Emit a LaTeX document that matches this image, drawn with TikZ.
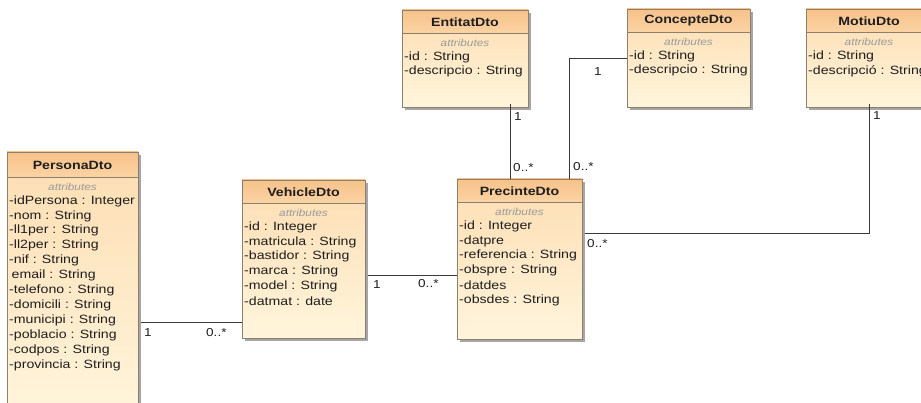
\documentclass[tikz,border=0pt]{standalone}
\usepackage{fontspec}
\setmainfont{Liberation Sans}[FakeStretch=1.18]
\usetikzlibrary{shadows}

\definecolor{hdrtop}{HTML}{F7C28A}
\definecolor{hdrbot}{HTML}{FBD3A4}
\definecolor{bodytop}{HTML}{FDDDB2}
\definecolor{bodybot}{HTML}{FFF5DC}
\definecolor{edgecol}{HTML}{8E7E6E}
\definecolor{shadowcol}{HTML}{A6A6A6}
\definecolor{ink}{HTML}{1E1E1E}
\definecolor{stereo}{HTML}{9A9A9A}
\definecolor{wirecol}{HTML}{3A3A3A}

\tikzset{
  classbox/.style={draw=edgecol, line width=0.7pt, top color=bodytop, bottom color=bodybot,
    inner sep=0pt, outer sep=0pt, anchor=north west,
    drop shadow={shadow xshift=3pt, shadow yshift=-3pt, fill=shadowcol, opacity=1}},
  classtitle/.style={font=\fontsize{12}{14}\selectfont\bfseries, text=ink, inner sep=0pt},
  stereotype/.style={font=\fontsize{10}{12}\selectfont\itshape, text=stereo, inner sep=0pt},
  attr/.style={font=\fontsize{12}{14}\selectfont, text=ink, inner sep=0pt, anchor=west},
  mult/.style={font=\fontsize{11.5}{14}\selectfont, text=ink, inner sep=0pt, anchor=west},
  wire/.style={draw=wirecol, line width=0.8pt},
}

% #1 name, #2 x, #3 y, #4 width, #5 height, #6 header height, #7 title, #8 attributes
\newcommand\umlclass[8]{%
  \node[classbox, minimum width=#4pt, minimum height=#5pt] (#1) at (#2,#3) {};
  \shade[top color=hdrtop, bottom color=hdrbot]
    (#1.north west) rectangle ([yshift=-#6pt]#1.north east);
  \draw[edgecol, line width=0.7pt] (#1.north west) rectangle (#1.south east);
  \draw[edgecol, line width=0.7pt] ([yshift=-#6pt]#1.north west) -- ([yshift=-#6pt]#1.north east);
  \node[classtitle] (#1-title) at ([yshift={-(#6/2+0.5)*1pt}]#1.north) {#7};
  \node[stereotype] (#1-stereo) at ([yshift={-(#6+10)*1pt}]#1.north) {attributes};
  \foreach \t [count=\i] in {#8} {
    \node[attr] (#1-a\i) at ([xshift=2pt, yshift={-(#6+24+(\i-1)*14.9)*1pt}]#1.north west) {\t};
  }%
}

\begin{document}
\begin{tikzpicture}[x=1pt, y=-1pt]
\useasboundingbox (0,0) rectangle (921,403);
\fill[white] (0,0) rectangle (921,403);

% bend points of the associations
\coordinate (pv) at (0,322);
\coordinate (vp) at (0,275);
\coordinate (ep) at (510,0);
\coordinate (cbend) at (569,58);
\coordinate (mbend) at (869,233);

% classes
\umlclass{persona}{7}{152}{131}{265}{25}{PersonaDto}{%
  -idPersona : Integer,-nom : String,-ll1per : String,-ll2per : String,-nif : String,%
  \hspace{2.5pt}email : String,-telefono : String,-domicili : String,-municipi : String,%
  -poblacio : String,-codpos : String,-provincia : String}
\umlclass{vehicle}{242}{180}{123}{158}{23}{VehicleDto}{%
  -id : Integer,-matricula : String,-bastidor : String,-marca : String,-model : String,-datmat : date}
\umlclass{precinte}{457}{179}{125}{160}{23}{PrecinteDto}{%
  -id : Integer,-datpre,-referencia : String,-obspre : String,-datdes,-obsdes : String}
\umlclass{entitat}{402}{10}{126}{97}{23}{EntitatDto}{-id : String,-descripcio : String}
\umlclass{concepte}{627}{9}{123}{98}{23}{ConcepteDto}{-id : String,-descripcio : String}
\umlclass{motiu}{806}{9}{126}{98}{23}{MotiuDto}{-id : String,-descripció : String}

% associations (they start past the drop shadows)
\draw[wire] ([xshift=3pt]persona.east |- pv) -- (vehicle.west |- pv);
\draw[wire] ([xshift=3pt]vehicle.east |- vp) -- (precinte.west |- vp);
\draw[wire] ([yshift=3pt]entitat.south -| ep) -- (precinte.north -| ep);
\draw[wire] (concepte.west |- cbend) -- (cbend) -- (precinte.north -| cbend);
\draw[wire] ([yshift=3pt]motiu.south -| mbend) -- (mbend) -- ([xshift=3pt]precinte.east |- mbend);

% multiplicities
\node[mult] (m-pv1) at (144,333) {1};
\node[mult] (m-pv2) at (206,333) {0..*};
\node[mult] (m-vp1) at (373,285) {1};
\node[mult] (m-vp2) at (418,284) {0..*};
\node[mult] (m-ep1) at (514,117) {1};
\node[mult] (m-ep2) at (513,168) {0..*};
\node[mult] (m-cp1) at (594,72) {1};
\node[mult] (m-cp2) at (573,167) {0..*};
\node[mult] (m-mp1) at (873,116) {1};
\node[mult] (m-mp2) at (587,244) {0..*};
\end{tikzpicture}
\end{document}
